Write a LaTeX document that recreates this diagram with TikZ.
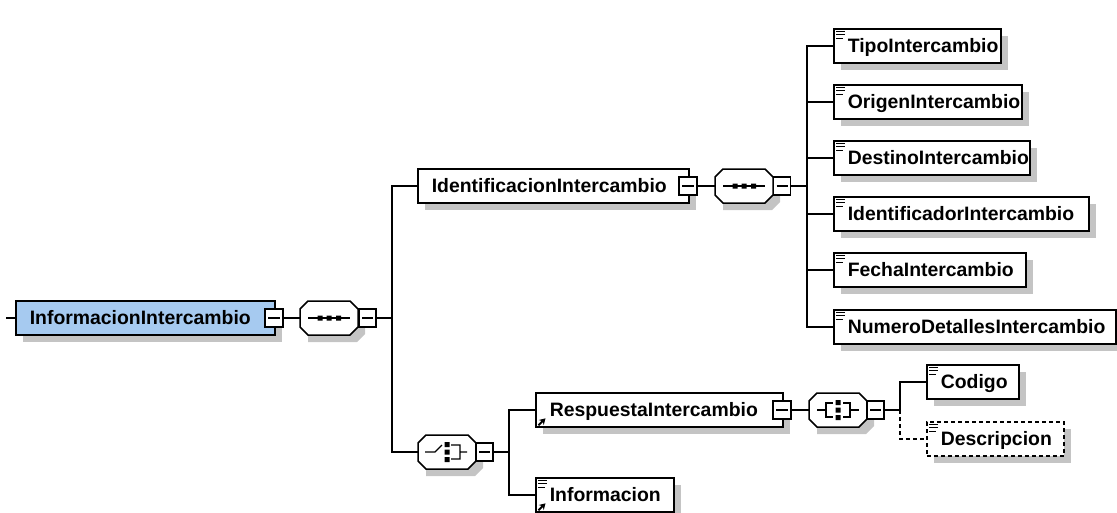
\documentclass[tikz,border=0pt]{standalone}
\usepackage{fontspec}
\setmainfont{Liberation Sans}
\usetikzlibrary{shadows,arrows.meta}
\definecolor{shadowgray}{HTML}{C4C4C4}
\definecolor{rootblue}{HTML}{A6CAF0}
\tikzset{
	elbox/.style={draw,fill=white,line width=1.6pt,anchor=west,align=left,text width=#1,inner xsep=14pt,inner ysep=0pt,minimum height=34pt,text height=14pt,text depth=2pt,font=\fontsize{19.4}{22}\bfseries\selectfont,general shadow={fill=shadowgray,shadow xshift=7pt,shadow yshift=-7pt}},
	octbox/.style={minimum width=58pt,minimum height=34pt,inner sep=0pt},
	minbox/.style={draw,fill=white,line width=1.5pt,minimum size=18pt,inner sep=0pt,path picture={\draw[line width=1.1pt] ([xshift=3pt]path picture bounding box.west) -- ([xshift=-3pt]path picture bounding box.east);}},
	wire/.style={line width=1.4pt},
	dashwire/.style={line width=1.4pt,dash pattern=on 4pt off 3pt}
}
\newcommand{\octagon}[1]{\fill[shadowgray,shift={(#1.center)}] (-21,-10) -- (29,-10) -- (36,-3) -- (36,16) -- (28,24) -- (-21,24) -- cycle;
	\draw[fill=white,line width=1.5pt,shift={(#1.center)}] (-29,-9) -- (-21,-17) -- (21,-17) -- (29,-9) -- (29,9) -- (21,17) -- (-21,17) -- (-29,9) -- cycle;}
\newcommand{\docmark}[1]{\draw[line width=1.1pt,shift={(#1.north west)}] (3,3) -- (12,3) (3,6.5) -- (12,6.5) (3,10) -- (10,10);}
\newcommand{\refmark}[1]{\draw[line width=2pt,-{Stealth[length=6pt,width=7pt]},shift={(#1.south west)}] (3.5,-2.5) -- (10.5,-9.5);}
\newcommand{\seqmark}[1]{\draw[line width=1.2pt,shift={(#1.center)}] (-21,0) -- (21,0);\fill[shift={(#1.center)}] (-11.5,-2.5) rectangle (-6.5,2.5) (-2.5,-2.5) rectangle (2.5,2.5) (7,-2.5) rectangle (12,2.5);}
\newcommand{\dotcolumn}[1]{\fill[shift={(#1.center)}] (-2.5,-10) rectangle (2.5,-5) (-2.5,-2.5) rectangle (2.5,2.5) (-2.5,5) rectangle (2.5,10);}
\begin{document}
\begin{tikzpicture}[x=1pt,y=-1pt]
	\useasboundingbox (0,0) rectangle (1117,512);
	\coordinate (lead) at (6,318);
	\coordinate (busa) at (392,318);
	\coordinate (busb) at (807,186);
	\coordinate (busc) at (509,452);
	\coordinate (busd) at (900,410);

	\node[elbox=231pt,fill=rootblue] (info) at (15,318) {InformacionIntercambio};
	\node[minbox] (infomin) at (274,318) {};
	\node[octbox] (seqa) at (329,318) {};
	\octagon{seqa}
	\node[minbox,minimum width=17pt] (seqamin) at (367.5,318) {};
	\seqmark{seqa}

	\node[elbox=243pt] (ident) at (417,186) {IdentificacionIntercambio};
	\node[minbox] (identmin) at (688,186) {};
	\node[octbox] (seqb) at (744,186) {};
	\octagon{seqb}
	\node[minbox,minimum width=17pt] (seqbmin) at (782,186) {};
	\seqmark{seqb}

	\node[elbox=139pt] (tipo) at (833,46) {TipoIntercambio};
	\node[elbox=160pt] (origen) at (833,102) {OrigenIntercambio};
	\node[elbox=168pt] (destino) at (833,158) {DestinoIntercambio};
	\node[elbox=227pt] (identif) at (833,214) {IdentificadorIntercambio};
	\node[elbox=164pt] (fecha) at (833,270) {FechaIntercambio};
	\node[elbox=254pt] (numero) at (833,327) {NumeroDetallesIntercambio};
	\docmark{tipo}
	\docmark{origen}
	\docmark{destino}
	\docmark{identif}
	\docmark{fecha}
	\docmark{numero}

	\node[octbox] (choice) at (447,452) {};
	\octagon{choice}
	\node[minbox,minimum width=17pt] (choicemin) at (484.5,452) {};
	\draw[line width=1.2pt,shift={(choice.center)}] (-22,0) -- (-12,0) -- (-5,-7) (4,-7) -- (13,-7) -- (13,7) -- (4,7) (13,0) -- (20,0);
	\dotcolumn{choice}

	\node[elbox=219pt] (resp) at (535,410) {RespuestaIntercambio};
	\node[minbox] (respmin) at (782,410) {};
	\node[octbox] (all) at (838,410) {};
	\octagon{all}
	\node[minbox,minimum width=17pt] (allmin) at (875.5,410) {};
	\draw[line width=1.2pt,shift={(all.center)}] (-21,0) -- (-12,0) (-5,-7) -- (-12,-7) -- (-12,7) -- (-5,7) (5,-7) -- (12,-7) -- (12,7) -- (5,7) (12,0) -- (21,0);
	\dotcolumn{all}
	\refmark{resp}

	\node[elbox=110pt] (infoel) at (535,495) {Informacion};
	\docmark{infoel}
	\refmark{infoel}

	\node[elbox=64pt] (codigo) at (926,382) {Codigo};
	\node[elbox=109pt,dash pattern=on 4pt off 3pt] (desc) at (926,439) {Descripcion};
	\docmark{codigo}
	\docmark{desc}

	\draw[wire] (lead) -- (info);
	\draw[wire] (infomin) -- (seqa);
	\draw[wire] (seqamin) -- (busa);
	\draw[wire] (busa) |- (ident);
	\draw[wire] (busa) |- (choice);
	\draw[wire] (identmin) -- (seqb);
	\draw[wire] (seqbmin) -- (busb);
	\draw[wire] (busb) |- (tipo);
	\draw[wire] (busb |- origen) -- (origen);
	\draw[wire] (busb |- destino) -- (destino);
	\draw[wire] (busb |- identif) -- (identif);
	\draw[wire] (busb |- fecha) -- (fecha);
	\draw[wire] (busb) |- (numero);
	\draw[wire] (choicemin) -- (busc);
	\draw[wire] (busc) |- (resp);
	\draw[wire] (busc) |- (infoel);
	\draw[wire] (respmin) -- (all);
	\draw[wire] (allmin) -- (busd);
	\draw[wire] (busd) |- (codigo);
	\draw[dashwire] (busd) |- (desc);
\end{tikzpicture}
\end{document}
